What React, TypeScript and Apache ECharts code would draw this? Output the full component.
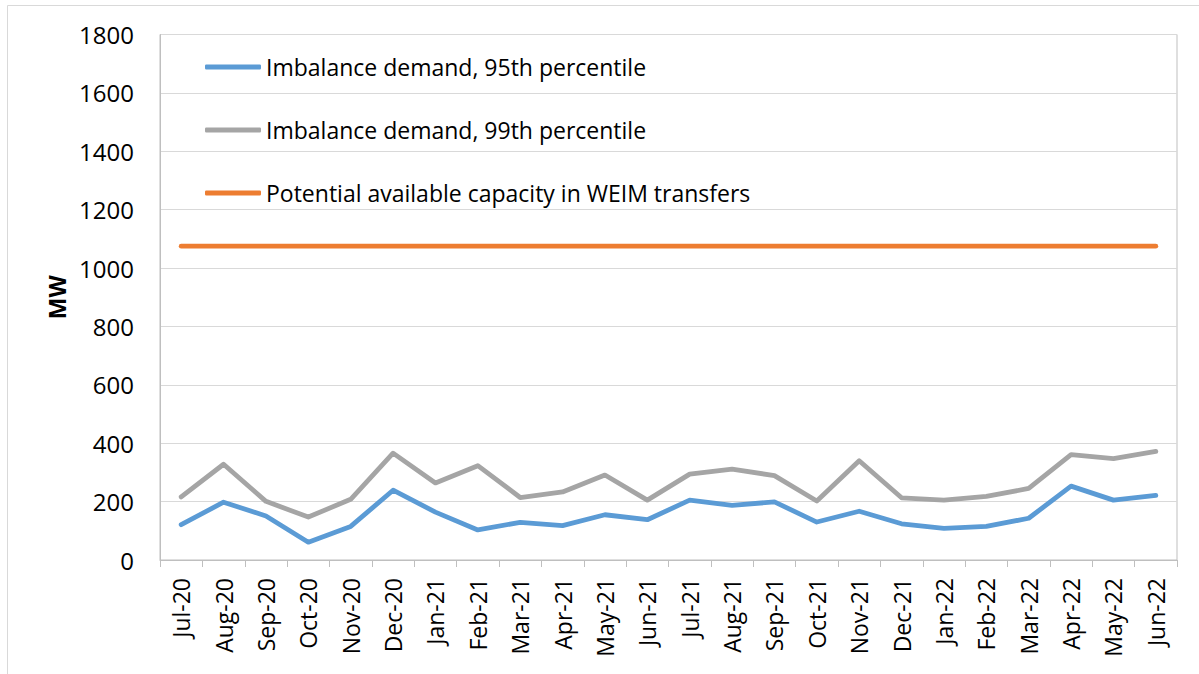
import React, { useEffect, useRef } from "react";
import * as echarts from "echarts";

const months = [
  "Jul-20", "Aug-20", "Sep-20", "Oct-20", "Nov-20", "Dec-20",
  "Jan-21", "Feb-21", "Mar-21", "Apr-21", "May-21", "Jun-21",
  "Jul-21", "Aug-21", "Sep-21", "Oct-21", "Nov-21", "Dec-21",
  "Jan-22", "Feb-22", "Mar-22", "Apr-22", "May-22", "Jun-22",
];

const p95 = [121, 198, 151, 61, 115, 239, 164, 103, 129, 118, 155, 138, 205, 187, 199, 130, 167, 124, 108, 115, 143, 253, 205, 221];
const p99 = [216, 328, 201, 147, 208, 366, 264, 323, 214, 233, 291, 205, 294, 311, 289, 202, 340, 213, 205, 218, 245, 361, 347, 372];
const capacity = [1075, 1075, 1075, 1075, 1075, 1075, 1075, 1075, 1075, 1075, 1075, 1075, 1075, 1075, 1075, 1075, 1075, 1075, 1075, 1075, 1075, 1075, 1075, 1075];

const seriesNames = [
  "Imbalance demand, 95th percentile",
  "Imbalance demand, 99th percentile",
  "Potential available capacity in WEIM transfers",
];
const colors = ["#5b9bd5", "#a5a5a5", "#ed7d31"];

const FONT = "'Open Sans', Lato, sans-serif";

export default function App() {
  const ref = useRef<HTMLDivElement>(null);
  useEffect(() => {
    if (!ref.current) return;
    const chart = echarts.init(ref.current, null, { renderer: "svg" });
    const mk = (name: string, data: number[], color: string) => ({
      name,
      type: "line",
      data,
      symbol: "none",
      lineStyle: { color, width: 4.8, cap: "round", join: "round" },
      itemStyle: { color },
    });
    chart.setOption({
      animation: false,
      backgroundColor: "#ffffff",
      textStyle: { fontFamily: FONT },
      graphic: [
        { type: "line", shape: { x1: 7.5, y1: 5.5, x2: 1199, y2: 5.5 }, style: { stroke: "#d9d9d9", lineWidth: 1 } },
        { type: "line", shape: { x1: 7.5, y1: 5.5, x2: 7.5, y2: 674 }, style: { stroke: "#d9d9d9", lineWidth: 1 } },
      ],
      grid: {
        left: 160,
        top: 34.5,
        right: 22,
        bottom: 114,
        show: true,
        borderColor: "#bfbfbf",
        borderWidth: 1,
        containLabel: false,
      },
      legend: {
        orient: "vertical",
        left: 205,
        top: 55,
        padding: 0,
        icon: "roundRect",
        itemWidth: 56,
        itemHeight: 5,
        itemGap: 39,
        data: seriesNames,
        textStyle: { fontSize: 23, color: "#000", fontFamily: FONT, lineHeight: 24 },
      },
      xAxis: {
        type: "category",
        data: months,
        boundaryGap: true,
        axisLine: { show: true, lineStyle: { color: "#bfbfbf", width: 1 } },
        axisTick: { show: true, length: 7, lineStyle: { color: "#bfbfbf" }, alignWithLabel: false },
        axisLabel: { rotate: 90, fontSize: 23, color: "#000", margin: 18, fontFamily: FONT, interval: 0 },
        splitLine: { show: false },
      },
      yAxis: {
        type: "value",
        min: 0,
        max: 1800,
        interval: 200,
        name: "MW",
        nameLocation: "middle",
        nameRotate: 90,
        nameGap: 92,
        nameTextStyle: { fontSize: 23, fontWeight: "bold", color: "#000", fontFamily: FONT },
        axisLine: { show: true, lineStyle: { color: "#bfbfbf", width: 1 } },
        axisTick: { show: false },
        axisLabel: { fontSize: 24, color: "#000", margin: 26, fontFamily: FONT, formatter: (v: number) => String(v) },
        splitLine: { show: true, lineStyle: { color: "#d9d9d9", width: 1 } },
      },
      series: [
        mk(seriesNames[0], p95, colors[0]),
        mk(seriesNames[1], p99, colors[1]),
        mk(seriesNames[2], capacity, colors[2]),
      ],
    });
    return () => chart.dispose();
  }, []);
  return (
    <div
      ref={ref}
      style={{ position: "absolute", left: 0, top: 0, width: 1199, height: 674 }}
    />
  );
}
